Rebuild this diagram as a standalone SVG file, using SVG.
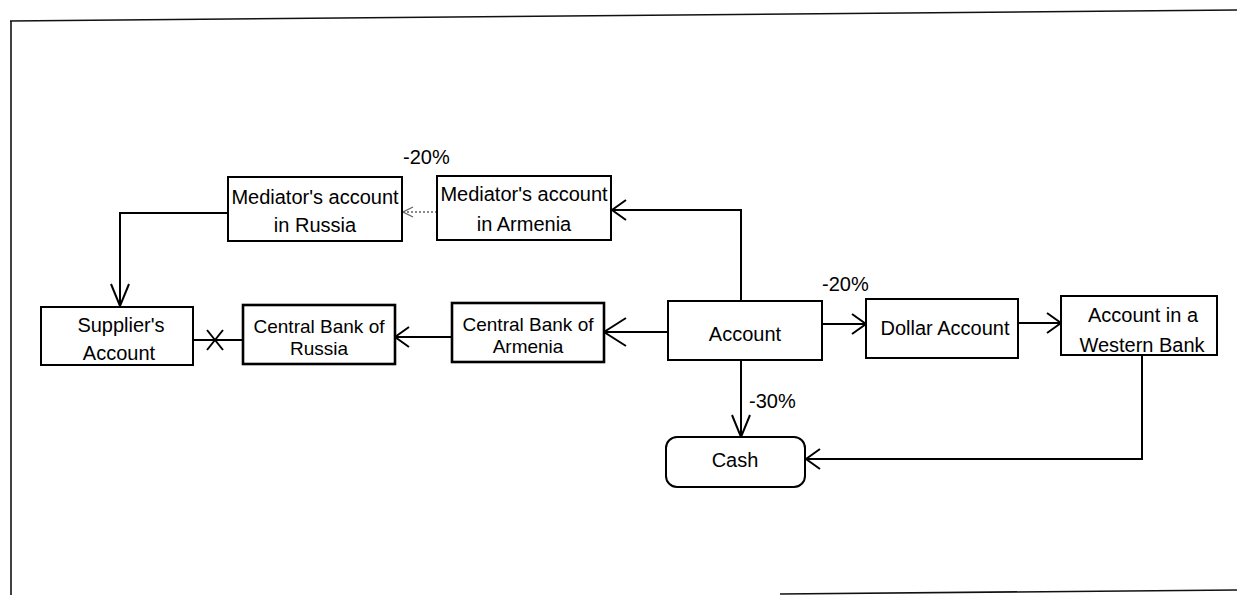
<svg xmlns="http://www.w3.org/2000/svg" width="1237" height="595" viewBox="0 0 1237 595">
<style>
.box{fill:#fff;stroke:#000;stroke-width:2}
.thick{stroke-width:2.6}
.t{font-family:"Liberation Sans",Arial,Helvetica,sans-serif;font-size:20px;fill:#000;text-anchor:middle}
.t2{font-size:19px}
.lbl{font-family:"Liberation Sans",Arial,Helvetica,sans-serif;font-size:20px;fill:#000}
.ln{fill:none;stroke:#000;stroke-width:2}
.dot{fill:none;stroke:#666;stroke-width:1.3;stroke-dasharray:2 2}
.frame{fill:none;stroke:#111;stroke-width:1.6}
</style>
<defs>
<marker id="arr" markerUnits="userSpaceOnUse" viewBox="0 0 16 22" refX="15" refY="11" markerWidth="16" markerHeight="22" orient="auto">
<path d="M1,1 L15,11 L1,21" fill="none" stroke="#000" stroke-width="2"/>
</marker>
<marker id="arrLong" markerUnits="userSpaceOnUse" viewBox="0 0 24 20" refX="23" refY="10" markerWidth="24" markerHeight="20" orient="auto">
<path d="M1,1 L23,10 L1,19" fill="none" stroke="#000" stroke-width="2"/>
</marker>
<marker id="arrBig" markerUnits="userSpaceOnUse" viewBox="0 0 24 30" refX="23" refY="15" markerWidth="24" markerHeight="30" orient="auto">
<path d="M1,1 L23,15 L1,29" fill="none" stroke="#000" stroke-width="2"/>
</marker>
<marker id="arrSmall" markerUnits="userSpaceOnUse" viewBox="0 0 12 12" refX="11" refY="6" markerWidth="12" markerHeight="12" orient="auto">
<path d="M1,1 L11,6 L1,11" fill="none" stroke="#666" stroke-width="1.3"/>
</marker>
</defs>
<rect x="0" y="0" width="1237" height="595" fill="#fff"/>
<g id="frame">
<line class="frame" x1="10" y1="21" x2="1237" y2="10"/>
<line class="frame" x1="11" y1="21" x2="11" y2="595"/>
<line class="frame" x1="780" y1="594" x2="1237" y2="590"/>
</g>
<g id="connectors">
<polyline class="ln" points="741,301 741,210 612,210" marker-end="url(#arr)"/>
<line class="dot" x1="437" y1="212" x2="403" y2="212" marker-end="url(#arrSmall)"/>
<polyline class="ln" points="228,213 120,213 120,306" marker-end="url(#arrLong)"/>
<line class="ln" x1="668" y1="332" x2="604" y2="332" marker-end="url(#arrBig)"/>
<line class="ln" x1="452" y1="337" x2="395" y2="337" marker-end="url(#arr)"/>
<line class="ln" x1="243" y1="340" x2="193" y2="340"/>
<path class="ln" d="M207,330 L223,350 M207,350 L223,330"/>
<line class="ln" x1="822" y1="324" x2="866" y2="324" marker-end="url(#arr)"/>
<line class="ln" x1="1018" y1="323" x2="1061" y2="323" marker-end="url(#arr)"/>
<line class="ln" x1="741" y1="360" x2="741" y2="437" marker-end="url(#arrLong)"/>
<polyline class="ln" points="1142,355 1142,459 806,459" marker-end="url(#arr)"/>
<text class="lbl" x="403" y="164">-20%</text>
<text class="lbl" x="822" y="291">-20%</text>
<text class="lbl" x="749" y="408">-30%</text>
</g>
<g id="med-russia">
<rect class="box" x="228" y="177" width="174" height="64"/>
<text class="t" x="315" y="204">Mediator's account</text>
<text class="t" x="315" y="232">in Russia</text>
</g>
<g id="med-armenia">
<rect class="box" x="437" y="176" width="174" height="64"/>
<text class="t" x="524" y="201">Mediator's account</text>
<text class="t" x="524" y="231">in Armenia</text>
</g>
<g id="supplier">
<rect class="box" x="41" y="307" width="152" height="58"/>
<text class="t" x="121" y="332">Supplier's</text>
<text class="t" x="119" y="360">Account</text>
</g>
<g id="cb-russia">
<rect class="box thick" x="243" y="305" width="152" height="59"/>
<text class="t t2" x="319" y="333">Central Bank of</text>
<text class="t t2" x="319" y="355">Russia</text>
</g>
<g id="cb-armenia">
<rect class="box thick" x="452" y="303" width="152" height="59"/>
<text class="t t2" x="528" y="331">Central Bank of</text>
<text class="t t2" x="528" y="353">Armenia</text>
</g>
<g id="account">
<rect class="box" x="668" y="301" width="154" height="59"/>
<text class="t" x="745" y="341">Account</text>
</g>
<g id="dollar">
<rect class="box" x="866" y="299" width="152" height="59"/>
<text class="t" x="945" y="335">Dollar Account</text>
</g>
<g id="western">
<rect class="box" x="1061" y="296" width="156" height="59"/>
<text class="t" x="1143" y="322">Account in a</text>
<text class="t" x="1142" y="352">Western Bank</text>
</g>
<g id="cash">
<rect class="box" x="666" y="437" width="139" height="50" rx="11" ry="11"/>
<text class="t" x="735" y="467">Cash</text>
</g>
</svg>
